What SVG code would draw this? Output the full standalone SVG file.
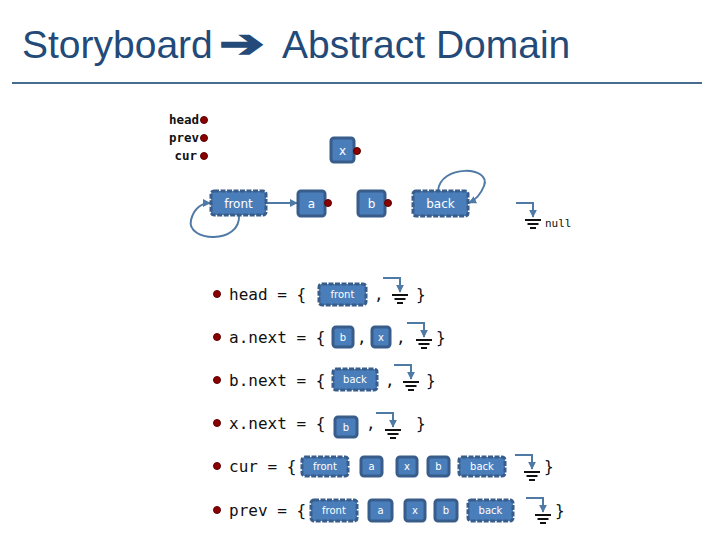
<svg xmlns="http://www.w3.org/2000/svg" xmlns:xlink="http://www.w3.org/1999/xlink" width="720" height="540" viewBox="0 0 720 540">
<style>
.title{font-family:"Liberation Sans",Arial,sans-serif;font-size:39px;fill:#234a78}
.mono{font-family:"DejaVu Sans Mono","Liberation Mono",monospace;font-size:16px;fill:#111}
.lbl{font-family:"DejaVu Sans Mono","Liberation Mono",monospace;font-size:12.5px;font-weight:bold;fill:#111}
.box{fill:#4a7ebb;stroke:#385d8a;stroke-width:3}
.dbox{fill:#4a7ebb;stroke:#385d8a;stroke-width:3;stroke-dasharray:5 1.5}
.bt{font-family:"DejaVu Sans","Liberation Sans",sans-serif;font-size:12px;fill:#fff;text-anchor:middle}
.st{font-family:"DejaVu Sans","Liberation Sans",sans-serif;font-size:10px;fill:#fff;text-anchor:middle}
.dot{fill:#8b0000;stroke:#5c0000;stroke-width:1}
.edge{fill:none;stroke:#4f7aa5;stroke-width:2}
.gl{stroke:#111;stroke-width:2}
</style>
<defs>
<marker id="arr" viewBox="0 0 10 10" refX="9" refY="5" markerWidth="4" markerHeight="4" orient="auto">
<path d="M0 0 L10 5 L0 10 z" fill="#4f7aa5"/>
</marker>
<g id="gnd">
<path class="edge" d="M-17 0 H0 V14" marker-end="url(#arr)"/>
<line class="gl" x1="-8" y1="17" x2="8" y2="17"/>
<line class="gl" x1="-5.5" y1="21" x2="5.5" y2="21"/>
<line class="gl" x1="-3" y1="25" x2="3" y2="25"/>
</g>
</defs>
<rect width="720" height="540" fill="#fff"/>
<g id="title">
<text class="title" x="22" y="58">Storyboard</text>
<text transform="translate(219,57) scale(1.6,1.15)" x="0" y="0" style="font-family:'DejaVu Sans',sans-serif;font-size:34px;fill:#234a78" stroke="#234a78" stroke-width="1.2">➔</text>
<text class="title" x="282" y="58">Abstract Domain</text>
<line x1="12" y1="83" x2="702" y2="83" stroke="#466d8f" stroke-width="2"/>
</g>
<g id="connectors">
<path class="edge" d="M266 203 H297" marker-end="url(#arr)"/>
<path class="edge" d="M239 215 C241 245 186 242 191 220 C194 208 202 203 210 203" marker-end="url(#arr)"/>
<path class="edge" d="M438 191 C440 164 492 166 484 186 C480 196 475 200 469 203" marker-end="url(#arr)"/>
</g>
<g id="vars">
<text class="lbl" x="199" y="124" text-anchor="end">head</text>
<text class="lbl" x="199" y="142" text-anchor="end">prev</text>
<text class="lbl" x="197" y="160" text-anchor="end">cur</text>
<circle class="dot" cx="204" cy="120" r="3.5"/>
<circle class="dot" cx="204" cy="138" r="3.5"/>
<circle class="dot" cx="204" cy="156" r="3.5"/>
</g>
<g id="node-x"><rect class="box" x="331" y="138" width="23" height="24" rx="3"/><text class="bt" x="342.5" y="155">x</text><circle class="dot" cx="357" cy="151" r="3.5"/></g>
<g id="node-front"><rect class="dbox" x="211" y="191" width="55" height="24" rx="3"/><text class="bt" x="238.5" y="208">front</text></g>
<g id="node-a"><rect class="box" x="298" y="191" width="27" height="25" rx="3"/><text class="bt" x="311.5" y="208">a</text><circle class="dot" cx="328" cy="203" r="3.5"/></g>
<g id="node-b"><rect class="box" x="358" y="191" width="27" height="25" rx="3"/><text class="bt" x="371.5" y="208">b</text><circle class="dot" cx="388" cy="203" r="3.5"/></g>
<g id="node-back"><rect class="dbox" x="413" y="191" width="55" height="25" rx="3"/><text class="bt" x="440.5" y="208">back</text></g>
<g id="node-null"><use xlink:href="#gnd" x="533" y="203"/><text x="545" y="227" style="font-family:'DejaVu Sans Mono',monospace;font-size:11px;fill:#111">null</text></g>

<g id="row-head">
<circle class="dot" cx="217" cy="294" r="3.5"/>
<text class="mono" x="229" y="300">head = {</text>
<rect class="dbox" x="319" y="284" width="47" height="21" rx="3"/><text class="st" x="342.5" y="298">front</text>
<text class="mono" x="374" y="300">,</text>
<use xlink:href="#gnd" x="400" y="278"/>
<text class="mono" x="416" y="300">}</text>
</g>
<g id="row-anext">
<circle class="dot" cx="217" cy="337" r="3.5"/>
<text class="mono" x="229" y="343">a.next = {</text>
<rect class="box" x="333" y="327" width="20" height="20" rx="3"/><text class="st" x="343" y="341">b</text>
<text class="mono" x="357" y="343">,</text>
<rect class="box" x="372" y="327" width="18" height="20" rx="3"/><text class="st" x="381" y="341">x</text>
<text class="mono" x="396" y="343">,</text>
<use xlink:href="#gnd" x="424" y="323"/>
<text class="mono" x="436" y="343">}</text>
</g>
<g id="row-bnext">
<circle class="dot" cx="217" cy="380" r="3.5"/>
<text class="mono" x="229" y="386">b.next = {</text>
<rect class="dbox" x="333" y="369" width="44" height="21" rx="3"/><text class="st" x="355" y="383">back</text>
<text class="mono" x="385" y="386">,</text>
<use xlink:href="#gnd" x="411" y="365"/>
<text class="mono" x="426" y="386">}</text>
</g>
<g id="row-xnext">
<circle class="dot" cx="217" cy="423" r="3.5"/>
<text class="mono" x="229" y="429">x.next = {</text>
<rect class="box" x="335" y="417" width="22" height="20" rx="3"/><text class="st" x="346" y="431">b</text>
<text class="mono" x="366" y="429">,</text>
<use xlink:href="#gnd" x="393" y="413"/>
<text class="mono" x="416" y="429">}</text>
</g>
<g id="row-cur">
<circle class="dot" cx="217" cy="466" r="3.5"/>
<text class="mono" x="229" y="472">cur = {</text>
<rect class="dbox" x="302" y="457" width="46" height="19" rx="3"/><text class="st" x="325" y="470">front</text>
<rect class="box" x="361" y="457" width="21" height="19" rx="3"/><text class="st" x="371.5" y="470">a</text>
<rect class="box" x="397" y="457" width="20" height="19" rx="3"/><text class="st" x="407" y="470">x</text>
<rect class="box" x="428" y="457" width="21" height="19" rx="3"/><text class="st" x="438.5" y="470">b</text>
<rect class="dbox" x="459" y="457" width="46" height="19" rx="3"/><text class="st" x="482" y="470">back</text>
<use xlink:href="#gnd" x="532" y="455"/>
<text class="mono" x="544" y="472">}</text>
</g>
<g id="row-prev">
<circle class="dot" cx="217" cy="510" r="3.5"/>
<text class="mono" x="229" y="516">prev = {</text>
<rect class="dbox" x="311" y="500" width="46" height="21" rx="3"/><text class="st" x="334" y="514">front</text>
<rect class="box" x="369" y="500" width="23" height="21" rx="3"/><text class="st" x="380.5" y="514">a</text>
<rect class="box" x="405" y="500" width="20" height="21" rx="3"/><text class="st" x="415" y="514">x</text>
<rect class="box" x="435" y="500" width="22" height="21" rx="3"/><text class="st" x="446" y="514">b</text>
<rect class="dbox" x="468" y="500" width="45" height="21" rx="3"/><text class="st" x="490.5" y="514">back</text>
<use xlink:href="#gnd" x="543" y="498"/>
<text class="mono" x="555" y="516">}</text>
</g>
</svg>
